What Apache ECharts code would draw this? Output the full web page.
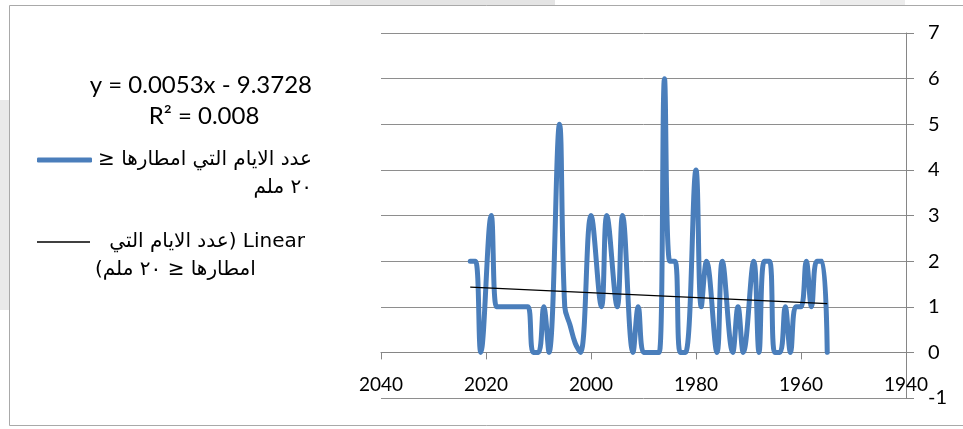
<!DOCTYPE html>
<html><head><meta charset="utf-8">
<script src="https://cdn.jsdelivr.net/npm/echarts@6/dist/echarts.min.js"></script>
<style>html,body{margin:0;padding:0;background:#fff}#c{width:963px;height:429px}</style>
</head><body><div id="c"></div>
<script>
// ---- data ----
const years = [2023,2022,2021,2019,2018,2017,2016,2015,2014,2013,2012,2011,2010,2009,2008,2006,2005,2004,2003,2002,2000,1998,1997,1995,1994,1992,1991,1990,1989,1988,1987,1986,1985,1984,1983,1982,1980,1979,1978,1976,1975,1973,1972,1971,1969,1968,1967,1966,1965,1964,1963,1962,1961,1960,1959,1958,1957,1956,1955];
const values = [2,2,0,3,1,1,1,1,1,1,1,0,0,1,0,5,1,0.6,0.2,0,3,1,3,1,3,0,1,0,0,0,0,6,2,2,0,0,4,1,2,0,2,0,1,0,2,0,2,2,0,0,1,0,1,1,2,1,2,2,0];
const trendYears = [2023, 1955];
const trendValues = [1.43, 1.07];
const xTicks = [1940, 2040, 20];   // min, max, interval
const yTicks = [-1, 7, 1];
const seriesName = 'main';
const trendName = 'trend';
const RLI = '\u2067', PDI = '\u2069';
const legendMainLines = ['عدد الايام التي امطارها ≤', '٢٠ ملم'];
const legendTrendLines = ['Linear (عدد الايام التي', 'امطارها ≤ ٢٠ ملم)'];
const eqText = 'y = 0.0053x - 9.3728';
const r2Text = 'R² = 0.008';

const mainData = years.map((y, i) => [y, values[i]]);
const trendData = trendYears.map((y, i) => [y, trendValues[i]]);

const FONT = 'Lato, "DejaVu Sans", sans-serif';
const AR_FONT = '"DejaVu Sans", Lato, sans-serif';
const AR_SIZE = 20;

const chart = echarts.init(document.getElementById('c'), null, {renderer: 'canvas'});
chart.setOption({
  backgroundColor: '#fff',
  animation: false,
  grid: {left: 381, right: 57, top: 33, bottom: 31, containLabel: false, outerBoundsMode: 'none'},
  xAxis: {
    type: 'value', min: xTicks[0], max: xTicks[1], interval: xTicks[2], inverse: true,
    axisLine: {show: true, onZero: true, lineStyle: {color: '#868686', width: 1}},
    axisTick: {show: true, length: 7, inside: false, lineStyle: {color: '#868686'}},
    axisLabel: {margin: -23, color: '#000', fontSize: 19, fontFamily: FONT, formatter: v => String(v)},
    splitLine: {show: false}
  },
  yAxis: {
    type: 'value', min: yTicks[0], max: yTicks[1], interval: yTicks[2], position: 'right',
    axisLine: {show: true, onZero: false, lineStyle: {color: '#868686', width: 1}},
    axisTick: {show: true, length: 8, inside: false, lineStyle: {color: '#868686'}},
    axisLabel: {margin: 22, color: '#000', fontSize: 20, fontFamily: FONT},
    splitLine: {show: true, lineStyle: {color: '#8e8e8e', width: 1}}
  },
  legend: [
    {
      data: [{name: seriesName, icon: 'roundRect', itemStyle: {color: '#4a7ebb'}}],
      orient: 'vertical', left: 37, top: 122, padding: 0,
      itemWidth: 55, itemHeight: 5, itemGap: 0,
      formatter: () => '{b| }\n{r|' + RLI + legendMainLines[0] + PDI + '}\n{r|' + RLI + legendMainLines[1] + PDI + '}',
      textStyle: {rich: {
        b: {lineHeight: 28, fontSize: AR_SIZE},
        r: {width: 215, align: 'right', lineHeight: 28, fontSize: AR_SIZE, fontFamily: AR_FONT, color: '#000'}
      }}
    },
    {
      data: [{name: trendName, icon: 'rect', itemStyle: {color: '#000'}}],
      orient: 'vertical', left: 37, top: 204, padding: 0,
      itemWidth: 53, itemHeight: 1.3, itemGap: 0,
      formatter: () => '{b| }\n{r|' + RLI + legendTrendLines[0] + PDI + '}\n{l|' + RLI + legendTrendLines[1] + PDI + '}',
      textStyle: {rich: {
        b: {lineHeight: 28, fontSize: AR_SIZE},
        r: {width: 210, align: 'right', lineHeight: 28, fontSize: AR_SIZE, fontFamily: AR_FONT, color: '#000'},
        l: {width: 210, align: 'left', lineHeight: 28, fontSize: AR_SIZE, fontFamily: AR_FONT, color: '#000'}
      }}
    }
  ],
  graphic: [
    {type: 'rect', silent: true, z: -10, shape: {x: 0, y: 100, width: 9, height: 210}, style: {fill: '#e9e9e9'}},
    {type: 'rect', silent: true, z: -10, shape: {x: 330, y: 0, width: 225, height: 5}, style: {fill: '#e4e4e4'}},
    {type: 'rect', silent: true, z: -10, shape: {x: 820, y: 0, width: 85, height: 5}, style: {fill: '#ececec'}},
    {type: 'polyline', silent: true, shape: {points: [[963, 5.5], [9.5, 5.5], [9.5, 425.5], [963, 425.5]]}, style: {stroke: '#a9a9a9', lineWidth: 1, fill: null}},
    {type: 'text', silent: true, style: {text: eqText, x: 312, y: 85, align: 'right', verticalAlign: 'middle', font: '24px ' + FONT, fill: '#000'}},
    {type: 'text', silent: true, style: {text: r2Text, x: 204, y: 116, align: 'center', verticalAlign: 'middle', font: '24px ' + FONT, fill: '#000'}}
  ],
  series: [
    {
      name: seriesName, type: 'line', data: mainData, smooth: 0.4, symbol: 'none',
      lineStyle: {color: '#4a7ebb', width: 5, cap: 'round', join: 'round'},
      itemStyle: {color: '#4a7ebb'}, z: 2
    },
    {
      name: trendName, type: 'line', data: trendData, symbol: 'none',
      lineStyle: {color: '#000', width: 1.3}, itemStyle: {color: '#000'}, z: 3
    }
  ]
});
</script></body></html>
